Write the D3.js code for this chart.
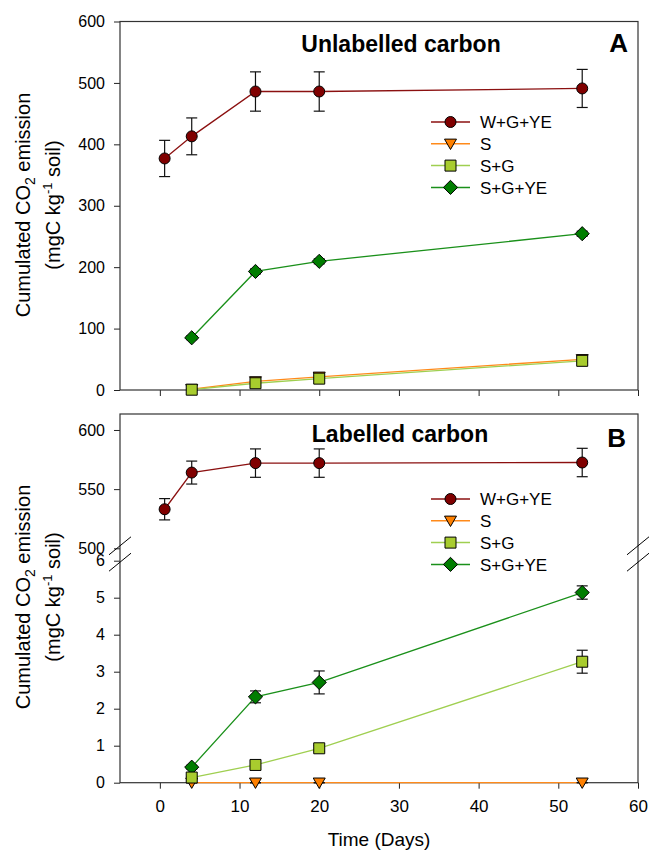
<!DOCTYPE html>
<html>
<head>
<meta charset="utf-8">
<script src="https://cdn.jsdelivr.net/npm/d3@7"></script>
<style>
body { margin: 0; background: #fff; }
text { font-family: "Liberation Sans", Arial, Helvetica, sans-serif; fill: #000; }
</style>
</head>
<body>
<script>
// sampling days
var daysAll = [0.6, 4, 12, 20, 53];
var daysSoil = [4, 12, 20, 53];
var seriesNames = ["W+G+YE", "S", "S+G", "S+G+YE"];
var xTicks = [0, 10, 20, 30, 40, 50, 60];
var yTicksA = [0, 100, 200, 300, 400, 500, 600];
var yTicksBTop = [500, 550, 600];
var yTicksBLow = [0, 1, 2, 3, 4, 5, 6];

// panel A : unlabelled carbon
var unlabWGYE = [377, 413, 486, 486, 491];
var unlabWGYEerr = [29.5, 30, 32, 32, 31];
var unlabS = [1.5, 14, 21.5, 50];
var unlabSerr = [1, 2, 2, 3];
var unlabSG = [0.5, 11, 18.5, 47.5];
var unlabSGerr = [1, 2, 2, 3];
var unlabSGYE = [85, 193, 209.5, 254.5];
var unlabSGYEerr = [3, 4, 4, 4];

// panel B : labelled carbon
var labWGYE = [533, 564, 572, 572, 572.5];
var labWGYEerr = [9, 9.7, 12, 12, 12];
var labS = [0, 0, 0, 0];
var labSerr = [0, 0, 0, 0];
var labSG = [0.14, 0.48, 0.93, 3.27];
var labSGerr = [0.03, 0.05, 0.08, 0.31];
var labSGYE = [0.42, 2.32, 2.71, 5.14];
var labSGYEerr = [0.05, 0.16, 0.31, 0.18];

const WIDTH = 650;
const HEIGHT = 852;
const LEFT = 120;
const RIGHT = 638;

var translate = function (x, y) {
  return "translate(" + x + "," + y + ")";
};

// custom symbols
var diamond = {
  draw: function (ctx, size) {
    var r = Math.sqrt(size) / 2;
    ctx.moveTo(0, -r); ctx.lineTo(r, 0); ctx.lineTo(0, r); ctx.lineTo(-r, 0); ctx.closePath();
  }
};
var triangleDown = {
  draw: function (ctx, size) {
    var w = Math.sqrt(size) / 2;
    ctx.moveTo(-w, -w * 0.78); ctx.lineTo(w, -w * 0.78); ctx.lineTo(0, w * 0.95); ctx.closePath();
  }
};

var styles = {
  "W+G+YE": { fill: "#800000", line: "#8b1010", sym: d3.symbolCircle, size: 95 },
  "S": { fill: "#ff8000", line: "#ff8a1a", sym: triangleDown, size: 144 },
  "S+G": { fill: "#a8cc2e", line: "#9fcf50", sym: d3.symbolSquare, size: 121 },
  "S+G+YE": { fill: "#007d00", line: "#1a901a", sym: diamond, size: 200 }
};

var x = d3.scaleLinear().domain([-5, 60]).range([LEFT, RIGHT]);
var yA = d3.scaleLinear().domain([0, 600]).range([390, 21.5]);
var yBTop = d3.scaleLinear().domain([500, 613.5]).range([548.3, 414]);
var yBLow = d3.scaleLinear().domain([0, 6]).range([782.7, 560.7]);

var svg = d3.select("body").append("svg")
  .attr("width", WIDTH)
  .attr("height", HEIGHT);

svg.append("rect").attr("width", WIDTH).attr("height", HEIGHT).attr("fill", "#fff");

var styleAxis = function (g, size) {
  g.select(".domain").remove();
  g.selectAll(".tick line").attr("stroke", "#222");
  g.selectAll(".tick text")
    .style("font-family", '"Liberation Sans", Arial, sans-serif')
    .style("font-size", size + "px")
    .attr("fill", "#000");
};

var drawFrame = function (top, bottom) {
  svg.append("rect")
    .attr("x", LEFT).attr("y", top)
    .attr("width", RIGHT - LEFT).attr("height", bottom - top)
    .attr("fill", "none").attr("stroke", "#333").attr("stroke-width", 1.2);
};

var drawSeries = function (xs, ys, errs, yScale, name) {
  var st = styles[name];
  var g = svg.append("g");
  var line = d3.line().x(function (d, i) { return x(xs[i]); }).y(function (d) { return yScale(d); });
  g.append("path").attr("d", line(ys))
    .attr("fill", "none").attr("stroke", st.line).attr("stroke-width", 1.3);

  var eb = g.selectAll(".err").data(ys).enter().append("g").attr("class", "err");
  eb.append("line")
    .attr("x1", function (d, i) { return x(xs[i]); })
    .attr("x2", function (d, i) { return x(xs[i]); })
    .attr("y1", function (d, i) { return yScale(d + errs[i]); })
    .attr("y2", function (d, i) { return yScale(d - errs[i]); });
  eb.append("line")
    .attr("x1", function (d, i) { return x(xs[i]) - 5.5; })
    .attr("x2", function (d, i) { return x(xs[i]) + 5.5; })
    .attr("y1", function (d, i) { return yScale(d + errs[i]); })
    .attr("y2", function (d, i) { return yScale(d + errs[i]); });
  eb.append("line")
    .attr("x1", function (d, i) { return x(xs[i]) - 5.5; })
    .attr("x2", function (d, i) { return x(xs[i]) + 5.5; })
    .attr("y1", function (d, i) { return yScale(d - errs[i]); })
    .attr("y2", function (d, i) { return yScale(d - errs[i]); });
  eb.selectAll("line").attr("stroke", "#111").attr("stroke-width", 1.2);

  g.selectAll(".pt").data(ys).enter().append("path")
    .attr("class", "pt")
    .attr("transform", function (d, i) { return translate(x(xs[i]), yScale(d)); })
    .attr("d", d3.symbol().type(st.sym).size(st.size))
    .attr("fill", st.fill).attr("stroke", "#000").attr("stroke-width", 1);
};

var drawLegend = function (x0, y0) {
  var g = svg.append("g").attr("transform", translate(x0, y0));
  var rows = g.selectAll("g").data(seriesNames).enter().append("g")
    .attr("transform", function (d, i) { return translate(0, i * 21.8); });
  rows.append("line").attr("x1", 0).attr("x2", 39)
    .attr("stroke", function (d) { return styles[d].line; }).attr("stroke-width", 1.5);
  rows.append("path")
    .attr("transform", translate(19.5, 0))
    .attr("d", function (d) { return d3.symbol().type(styles[d].sym).size(styles[d].size)(); })
    .attr("fill", function (d) { return styles[d].fill; })
    .attr("stroke", "#000");
  rows.append("text").attr("x", 49).attr("dy", "0.36em")
    .style("font-size", "17px").text(function (d) { return d; });
};

var drawYTitle = function (cy) {
  var t1 = svg.append("text").attr("transform", translate(30, cy) + " rotate(-90)")
    .attr("text-anchor", "middle").style("font-size", "20px");
  t1.append("tspan").text("Cumulated CO");
  t1.append("tspan").attr("dy", 5).style("font-size", "14px").text("2");
  t1.append("tspan").attr("dy", -5).text(" emission");
  var t2 = svg.append("text").attr("transform", translate(60, cy) + " rotate(-90)")
    .attr("text-anchor", "middle").style("font-size", "20px");
  t2.append("tspan").text("(mgC kg");
  t2.append("tspan").attr("dy", -8).style("font-size", "13px").text("-1");
  t2.append("tspan").attr("dy", 8).text(" soil)");
};

var drawBreak = function (xc) {
  var mids = [yBTop(500) - 2.5, yBLow(6) + 1.5];
  mids.forEach(function (m) {
    svg.append("line")
      .attr("x1", xc - 11).attr("y1", m + 9)
      .attr("x2", xc + 11).attr("y2", m - 9)
      .attr("stroke", "#000").attr("stroke-width", 1);
  });
};

// ---------- panel A ----------
svg.append("g").attr("transform", translate(LEFT, 0))
  .call(d3.axisLeft(yA).tickValues(yTicksA).tickSize(6).tickPadding(9))
  .call(styleAxis, 16);
svg.append("g").attr("transform", translate(0, 390))
  .call(d3.axisBottom(x).tickValues(xTicks).tickSize(6).tickFormat(""))
  .call(styleAxis, 16);
drawFrame(21.5, 390);

drawSeries(daysAll, unlabWGYE, unlabWGYEerr, yA, "W+G+YE");
drawSeries(daysSoil, unlabSGYE, unlabSGYEerr, yA, "S+G+YE");
drawSeries(daysSoil, unlabS, unlabSerr, yA, "S");
drawSeries(daysSoil, unlabSG, unlabSGerr, yA, "S+G");
drawLegend(431, 122);

svg.append("text").attr("x", 401).attr("y", 52).attr("text-anchor", "middle")
  .style("font-size", "23px").style("font-weight", "bold").text("Unlabelled carbon");
svg.append("text").attr("x", 628).attr("y", 52).attr("text-anchor", "end")
  .style("font-size", "26px").style("font-weight", "bold").text("A");
drawYTitle(205);

// ---------- panel B ----------
svg.append("g").attr("transform", translate(LEFT, 0))
  .call(d3.axisLeft(yBTop).tickValues(yTicksBTop).tickSize(6).tickPadding(9))
  .call(styleAxis, 16);
svg.append("g").attr("transform", translate(LEFT, 0))
  .call(d3.axisLeft(yBLow).tickValues(yTicksBLow).tickSize(6).tickPadding(9).tickFormat(d3.format("d")))
  .call(styleAxis, 16);
svg.append("g").attr("transform", translate(0, 782.7))
  .call(d3.axisBottom(x).tickValues(xTicks).tickSize(6).tickPadding(11))
  .call(styleAxis, 17);
drawFrame(414, 782.7);
drawBreak(LEFT);
drawBreak(RIGHT);

drawSeries(daysAll, labWGYE, labWGYEerr, yBTop, "W+G+YE");
drawSeries(daysSoil, labSGYE, labSGYEerr, yBLow, "S+G+YE");
drawSeries(daysSoil, labS, labSerr, yBLow, "S");
drawSeries(daysSoil, labSG, labSGerr, yBLow, "S+G");
drawLegend(431, 499);

svg.append("text").attr("x", 400).attr("y", 442).attr("text-anchor", "middle")
  .style("font-size", "23px").style("font-weight", "bold").text("Labelled carbon");
svg.append("text").attr("x", 626).attr("y", 447).attr("text-anchor", "end")
  .style("font-size", "26px").style("font-weight", "bold").text("B");
drawYTitle(597);

svg.append("text").attr("x", (LEFT + RIGHT) / 2).attr("y", 846).attr("text-anchor", "middle")
  .style("font-size", "19px").text("Time (Days)");
</script>
</body>
</html>
